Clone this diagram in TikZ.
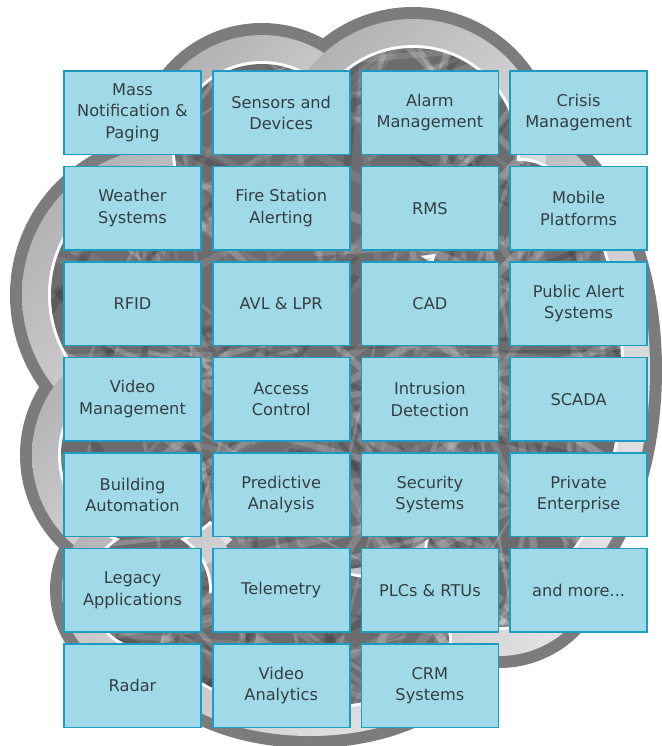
\documentclass[tikz,border=0pt]{standalone}
\usepackage{fontspec}
\setmainfont{DejaVu Sans}
\usetikzlibrary{shadings}
\definecolor{boxfill}{RGB}{160,218,232}
\definecolor{boxline}{RGB}{30,155,192}
\definecolor{txt}{RGB}{55,62,66}
\definecolor{cdark}{RGB}{124,124,127}
\definecolor{bandD}{RGB}{168,168,171}
\definecolor{bandM}{RGB}{204,204,207}
\definecolor{bandL}{RGB}{236,236,238}
\definecolor{texbase}{RGB}{108,108,111}
\def\lobes#1{%
 (262,151) circle[radius=128pt-#1]
 (413,152) circle[radius=145pt-#1]
 (170,295) circle[radius=160pt-#1]
 (150,455) circle[radius=130pt-#1]
 (150,590) circle[radius=100pt-#1]
 (499,555) circle[radius=113pt-#1]
 (520,370) ellipse[x radius=142pt-#1, y radius=250pt-#1]
 (310,640) ellipse[x radius=180pt-#1, y radius=108pt-#1]}
\begin{document}
\begin{tikzpicture}[x=1pt,y=-1pt,
  box/.style={draw=boxline, line width=1.6pt, fill=boxfill, minimum width=137pt,
    minimum height=83.5pt, inner sep=0pt, align=center, text=txt,
    font=\fontsize{16.2}{21.5}\selectfont},
  lobeshade/.style={upper left=bandD, upper right=bandM, lower left=bandM, lower right=bandL}]
\useasboundingbox (0,0) rectangle (661,746);
% outer dark band
\fill[cdark] \lobes{0pt};
% light gradient band, one shading per lobe
\shade[lobeshade] (262,151) circle[radius=116pt];
\shade[lobeshade] (170,295) circle[radius=148pt];
\shade[lobeshade] (150,455) circle[radius=118pt];
\shade[lobeshade] (150,590) circle[radius=88pt];
\shade[lobeshade] (310,640) ellipse[x radius=168pt, y radius=96pt];
\shade[lobeshade] (499,555) circle[radius=101pt];
\shade[lobeshade] (520,370) ellipse[x radius=130pt, y radius=238pt];
\shade[lobeshade] (413,152) circle[radius=133pt];
% white line
\fill[white] \lobes{38pt};
% textured interior
\begin{scope}
  \clip \lobes{41pt} (330,400) circle[radius=170pt];
  \fill[texbase] (0,0) rectangle (661,746);
  \pgfmathsetseed{17}
  \foreach \i in {1,...,230}{
    \pgfmathsetmacro\px{60+rnd*560}
    \pgfmathsetmacro\py{40+rnd*680}
    \pgfmathsetmacro\ang{rnd*180}
    \pgfmathsetmacro\len{40+rnd*130}
    \pgfmathsetmacro\wd{2+rnd*7}
    \pgfmathsetmacro\op{0.06+rnd*0.16}
    \pgfmathsetmacro\xa{\px+\len*cos(\ang)}
    \pgfmathsetmacro\ya{\py+\len*sin(\ang)}
    \pgfmathsetmacro\xb{\px-\len*cos(\ang)}
    \pgfmathsetmacro\yb{\py-\len*sin(\ang)}
    \draw[line width=\wd pt, white, opacity=\op] (\xa,\ya) -- (\xb,\yb);
  }
  \foreach \i in {1,...,60}{
    \pgfmathsetmacro\px{60+rnd*560}
    \pgfmathsetmacro\py{40+rnd*680}
    \pgfmathsetmacro\ang{rnd*180}
    \pgfmathsetmacro\len{40+rnd*110}
    \pgfmathsetmacro\wd{3+rnd*6}
    \pgfmathsetmacro\xa{\px+\len*cos(\ang)}
    \pgfmathsetmacro\ya{\py+\len*sin(\ang)}
    \pgfmathsetmacro\xb{\px-\len*cos(\ang)}
    \pgfmathsetmacro\yb{\py-\len*sin(\ang)}
    \draw[line width=\wd pt, black, opacity=0.14] (\xa,\ya) -- (\xb,\yb);
  }
\end{scope}
% boxes
\node[box] (b11) at (132.5,112.75) {Mass\\Notification \&\\Paging};
\node[box] (b12) at (281.2,112.75) {Sensors and\\Devices};
\node[box] (b13) at (429.9,112.75) {Alarm\\Management};
\node[box] (b14) at (578.6,112.75) {Crisis\\Management};
\node[box] (b21) at (132.5,208.25) {Weather\\Systems};
\node[box] (b22) at (281.2,208.25) {Fire Station\\Alerting};
\node[box] (b23) at (429.9,208.25) {RMS};
\node[box] (b24) at (578.6,208.25) {Mobile\\Platforms};
\node[box] (b31) at (132.5,303.75) {RFID};
\node[box] (b32) at (281.2,303.75) {AVL \& LPR};
\node[box] (b33) at (429.9,303.75) {CAD};
\node[box] (b34) at (578.6,303.75) {Public Alert\\Systems};
\node[box] (b41) at (132.5,399.25) {Video\\Management};
\node[box] (b42) at (281.2,399.25) {Access\\Control};
\node[box] (b43) at (429.9,399.25) {Intrusion\\Detection};
\node[box] (b44) at (578.6,399.25) {SCADA};
\node[box] (b51) at (132.5,494.75) {Building\\Automation};
\node[box] (b52) at (281.2,494.75) {Predictive\\Analysis};
\node[box] (b53) at (429.9,494.75) {Security\\Systems};
\node[box] (b54) at (578.6,494.75) {Private\\Enterprise};
\node[box] (b61) at (132.5,590.25) {Legacy\\Applications};
\node[box] (b62) at (281.2,590.25) {Telemetry};
\node[box] (b63) at (429.9,590.25) {PLCs \& RTUs};
\node[box] (b64) at (578.6,590.25) {and more...};
\node[box] (b71) at (132.5,685.75) {Radar};
\node[box] (b72) at (281.2,685.75) {Video\\Analytics};
\node[box] (b73) at (429.9,685.75) {CRM\\Systems};
\end{tikzpicture}
\end{document}
